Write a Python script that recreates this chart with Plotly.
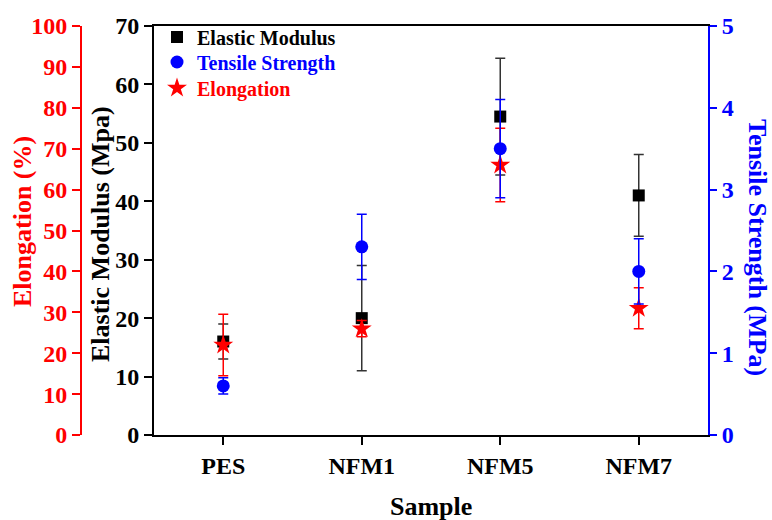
import plotly.graph_objects as go

samples = ["PES", "NFM1", "NFM5", "NFM7"]
elastic_modulus = [16, 20, 54.5, 41]
elastic_modulus_err = [3, 9, 10, 7]
tensile_strength = [0.6, 2.3, 3.5, 2.0]
tensile_strength_err = [0.1, 0.4, 0.6, 0.4]
elongation = [22, 26, 66, 31]
elongation_err = [7.5, 2, 9, 5]

FONT = "Liberation Serif, Times New Roman, serif"
RED = "#ff0000"
BLUE = "#0000ff"
BLACK = "#000000"

W, H = 772, 520
L, R, T, B = 70, 64, 26, 85
plot_w = W - L - R
plot_h = H - T - B
x_black = 154
x_red = 81
dom0 = (x_black - L) / plot_w
red_pos = (x_red - L) / plot_w

fig = go.Figure()
fig.add_trace(go.Scatter(
    x=samples, y=elastic_modulus, name="Elastic Modulus", mode="markers",
    marker=dict(symbol="square", size=12, color=BLACK),
    error_y=dict(type="data", array=elastic_modulus_err, color="#333333", thickness=1.5, width=5),
    xaxis="x", yaxis="y", legend="legend"))
fig.add_trace(go.Scatter(
    x=samples, y=tensile_strength, name="Tensile Strength", mode="markers",
    marker=dict(symbol="circle", size=13, color=BLUE),
    error_y=dict(type="data", array=tensile_strength_err, color=BLUE, thickness=1.5, width=5),
    xaxis="x", yaxis="y3", legend="legend2"))
fig.add_trace(go.Scatter(
    x=samples, y=elongation, name="Elongation", mode="markers",
    marker=dict(symbol="star", size=15, color=RED),
    error_y=dict(type="data", array=elongation_err, color=RED, thickness=1.5, width=5),
    xaxis="x", yaxis="y2", legend="legend3"))

tickfont = lambda c: dict(family=FONT, size=24, color=c, weight="bold")

def leg(py, color):
    return dict(x=(157 - L) / plot_w, y=(435 - py) / plot_h, xanchor="left", yanchor="middle",
                bgcolor="rgba(0,0,0,0)", font=dict(family=FONT, size=20, weight="bold", color=color))

fig.update_layout(
    width=W, height=H,
    margin=dict(l=L, r=R, t=T, b=B, pad=0),
    plot_bgcolor="white", paper_bgcolor="white",
    font=dict(family=FONT, size=24, color=BLACK),
    showlegend=True,
    legend=leg(37, BLACK),
    legend2=leg(62, BLUE),
    legend3=leg(88, RED),
    xaxis=dict(domain=[dom0, 1], type="category", range=[-0.5, 3.5],
               showline=True, linecolor=BLACK, linewidth=2, mirror=True,
               ticks="outside", ticklen=8, tickwidth=1.5, tickcolor=BLACK,
               tickfont=tickfont(BLACK), showgrid=False, zeroline=False),
    yaxis=dict(range=[0, 70], dtick=10, anchor="x", side="left",
               showline=True, linecolor=BLACK, linewidth=2,
               ticks="outside", ticklen=8, tickwidth=1.5, tickcolor=BLACK,
               tickfont=tickfont(BLACK), showgrid=False, zeroline=False),
    yaxis2=dict(range=[0, 100], dtick=10, overlaying="y", anchor="free",
                position=red_pos, side="left",
                showline=True, linecolor=RED, linewidth=2,
                ticks="outside", ticklen=8, tickwidth=1.5, tickcolor=RED,
                tickfont=tickfont(RED), showgrid=False, zeroline=False),
    yaxis3=dict(range=[0, 5], dtick=1, overlaying="y", anchor="x", side="right",
                showline=True, linecolor=BLUE, linewidth=2,
                ticks="outside", ticklen=7, tickwidth=1.5, tickcolor=BLUE,
                tickfont=tickfont(BLUE), showgrid=False, zeroline=False),
)

title_font = lambda c: dict(family=FONT, size=26, color=c, weight="bold")
fig.add_annotation(text="Elongation (%)", textangle=-90, xref="paper", yref="paper",
                   x=(22 - L) / plot_w, y=(435 - 222) / plot_h, showarrow=False, font=title_font(RED),
                   xanchor="center", yanchor="middle")
fig.add_annotation(text="Elastic Modulus (Mpa)", textangle=-90, xref="paper", yref="paper",
                   x=(100 - L) / plot_w, y=(435 - 234) / plot_h, showarrow=False, font=title_font(BLACK),
                   xanchor="center", yanchor="middle")
fig.add_annotation(text="Tensile Strength (MPa)", textangle=90, xref="paper", yref="paper",
                   x=(757 - L) / plot_w, y=(435 - 248) / plot_h, showarrow=False, font=title_font(BLUE),
                   xanchor="center", yanchor="middle")
fig.add_annotation(text="Sample", xref="paper", yref="paper",
                   x=(431 - L) / plot_w, y=-(506 - 435) / plot_h, showarrow=False,
                   font=title_font(BLACK), xanchor="center", yanchor="middle")

fig.write_html("out.html")
